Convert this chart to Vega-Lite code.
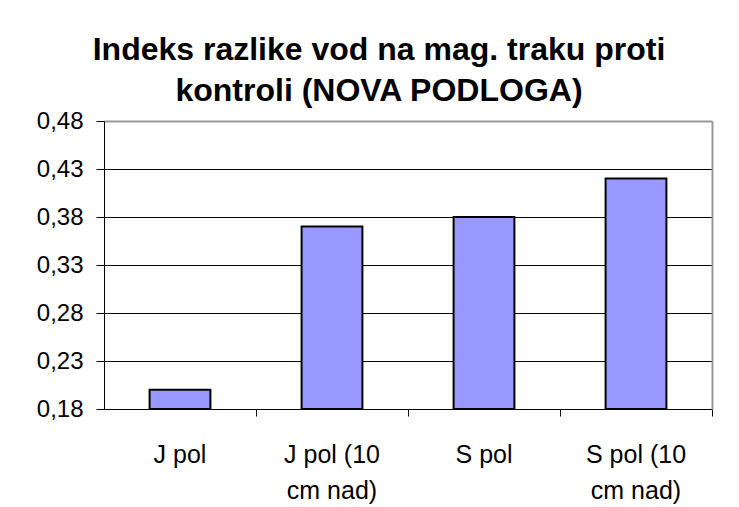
{
  "$schema": "https://vega.github.io/schema/vega-lite/v6.json",
  "width": 608,
  "height": 288,
  "autosize": {"type": "none"},
  "padding": {"left": 104, "top": 121, "right": 27, "bottom": 98},
  "background": "white",
  "title": {
    "text": ["Indeks razlike vod na mag. traku proti", "kontroli (NOVA PODLOGA)"],
    "font": "Liberation Sans",
    "fontSize": 32,
    "fontWeight": "bold",
    "color": "black",
    "lineHeight": 41,
    "anchor": "middle",
    "dx": -29,
    "dy": 11,
    "offset": 12
  },
  "data": {
    "values": [
      {"kategorija": "J pol", "indeks": 0.20},
      {"kategorija": "J pol (10\ncm nad)", "indeks": 0.37},
      {"kategorija": "S pol", "indeks": 0.38},
      {"kategorija": "S pol (10\ncm nad)", "indeks": 0.42}
    ]
  },
  "layer": [
    {
      "mark": {"type": "bar", "color": "#9999FF", "stroke": "black", "strokeWidth": 2},
      "encoding": {
        "x": {
          "field": "kategorija",
          "type": "nominal",
          "sort": null,
          "scale": {"paddingInner": 0.6, "paddingOuter": 0.3},
          "axis": {
            "title": null,
            "orient": "bottom",
            "labelAngle": 0,
            "labelExpr": "split(datum.label, '\\n')",
            "labelFont": "Liberation Sans",
            "labelFontSize": 25,
            "labelColor": "black",
            "labelLineHeight": 36,
            "labelPadding": 26,
            "labelBaseline": "top",
            "ticks": true,
            "bandPosition": 1.75,
            "tickSize": 7,
            "tickWidth": 1,
            "tickColor": "black",
            "domainColor": "black",
            "domainWidth": 1,
            "grid": false
          }
        },
        "y": {
          "field": "indeks",
          "type": "quantitative",
          "scale": {"domain": [0.18, 0.48], "nice": false, "zero": false},
          "axis": {
            "title": null,
            "orient": "left",
            "values": [0.18, 0.23, 0.28, 0.33, 0.38, 0.43, 0.48],
            "labelExpr": "replace(format(datum.value, '.2f'), '.', ',')",
            "labelFont": "Liberation Sans",
            "labelFontSize": 24,
            "labelColor": "black",
            "labelPadding": 13,
            "tickSize": 8,
            "tickColor": "black",
            "domainColor": "black",
            "domainWidth": 1,
            "grid": true,
            "gridColor": "black",
            "gridOpacity": {"condition": {"test": "datum.value > 0.47 || datum.value < 0.19", "value": 0}, "value": 1}
          }
        },
        "y2": {"datum": 0.18}
      }
    },
    {
      "mark": {"type": "bar", "opacity": 0},
      "encoding": {
        "x": {
          "field": "kategorija",
          "type": "nominal",
          "sort": null,
          "axis": {"title": null, "orient": "top", "labels": false, "ticks": false, "grid": false, "domainColor": "#999999", "domainWidth": 2}
        },
        "y": {
          "field": "indeks",
          "type": "quantitative",
          "axis": {"title": null, "orient": "right", "labels": false, "ticks": false, "grid": false, "domainColor": "#999999", "domainWidth": 2}
        },
        "y2": {"datum": 0.18}
      }
    }
  ],
  "resolve": {"axis": {"x": "independent", "y": "independent"}},
  "config": {
    "view": {"stroke": null}
  }
}
